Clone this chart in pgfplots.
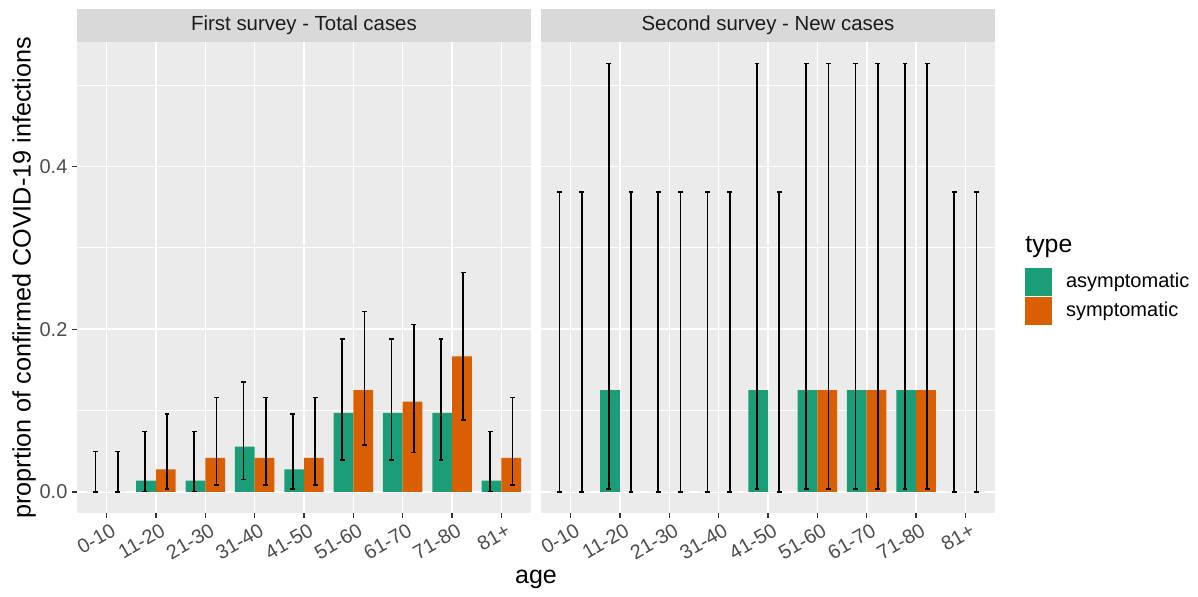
\documentclass[border=0pt]{standalone}
\usepackage{pgfplots}
\pgfplotsset{compat=1.18}
\usepackage{pgfplotstable}
\usepackage{fontspec}
\setmainfont{Liberation Sans}
\definecolor{dgreen}{HTML}{1B9E77}
\definecolor{dorange}{HTML}{D95F02}
\definecolor{panelbg}{HTML}{EBEBEB}
\definecolor{stripbg}{HTML}{D9D9D9}
\definecolor{ticklab}{HTML}{4D4D4D}
\definecolor{tickcol}{HTML}{333333}
\definecolor{striptext}{HTML}{1A1A1A}

% First survey - Total cases
\pgfplotstableread{
idx asy    asylo  asyhi  sym    symlo  symhi
0   0      0      0.0495 0      0      0.0495
1   0.0139 0.0003 0.0745 0.0278 0.0035 0.0960
2   0.0139 0.0003 0.0745 0.0417 0.0087 0.1160
3   0.0556 0.0152 0.1350 0.0417 0.0087 0.1160
4   0.0278 0.0035 0.0960 0.0417 0.0087 0.1160
5   0.0972 0.0395 0.1880 0.1250 0.0580 0.2220
6   0.0972 0.0395 0.1880 0.1111 0.0485 0.2060
7   0.0972 0.0395 0.1880 0.1667 0.0885 0.2700
8   0.0139 0.0003 0.0745 0.0417 0.0087 0.1160
}\first

% Second survey - New cases
\pgfplotstableread{
idx asy    asylo  asyhi  sym    symlo  symhi
0   0      0      0.3690 0      0      0.3690
1   0.1250 0.0032 0.5265 0      0      0.3690
2   0      0      0.3690 0      0      0.3690
3   0      0      0.3690 0      0      0.3690
4   0.1250 0.0032 0.5265 0      0      0.3690
5   0.1250 0.0032 0.5265 0.1250 0.0032 0.5265
6   0.1250 0.0032 0.5265 0.1250 0.0032 0.5265
7   0.1250 0.0032 0.5265 0.1250 0.0032 0.5265
8   0      0      0.3690 0      0      0.3690
}\second

\pgfplotsset{
  facet/.style={
    scale only axis, width=227pt, height=235.5pt,
    xmin=-0.6, xmax=8.6, ymin=-0.0263, ymax=0.5528,
    axis background/.style={fill=panelbg},
    axis line style={draw=none},
    xtick={0,...,8},
    xticklabels={0-10,11-20,21-30,31-40,41-50,51-60,61-70,71-80,81+},
    ytick={0,0.2,0.4}, minor ytick={0.1,0.3,0.5},
    yticklabels={0.0,0.2,0.4},
    grid=both,
    major grid style={white, line width=0.8pt},
    minor grid style={white, line width=0.4pt},
    tick align=outside, major tick length=2.4pt, minor tick length=0pt,
    tick style={tickcol, line width=0.6pt},
    xtick pos=bottom, ytick pos=left,
    xticklabel style={rotate=30, anchor=north east, inner sep=1pt,
      xshift=1.6pt, yshift=-1.6pt,
      font=\fontsize{10}{12}\selectfont, text=ticklab},
    yticklabel style={inner sep=2.2pt, font=\fontsize{10}{12}\selectfont, text=ticklab},
    /pgf/number format/assume math mode=true,
    legend image code/.code={\fill[##1] (0pt,-6.9pt) rectangle (13.35pt,6.9pt);},
  },
  ebar/.style={forget plot, draw=none, mark=none,
    error bars/.cd, y dir=both, y explicit,
    error bar style={draw=black, solid, line width=0.8pt},
    error mark options={rotate=90, draw=black, mark size=1.2pt, line width=0.8pt}},
}

\begin{document}
\begin{tikzpicture}
\useasboundingbox (0,0) rectangle (599pt,298.5pt);

% left facet
\begin{axis}[facet, at={(38.5pt,41.85pt)}, anchor=south west]
\addplot[ybar, bar width=0.4, bar shift=-0.2, fill=dgreen, draw=none] table[x=idx,y=asy]{\first};
\addplot[ybar, bar width=0.4, bar shift=0.2, fill=dorange, draw=none] table[x=idx,y=sym]{\first};
\addplot[ebar] table[x expr=\thisrow{idx}-0.225, y=asy,
  y error plus expr=\thisrow{asyhi}-\thisrow{asy},
  y error minus expr=\thisrow{asy}-\thisrow{asylo}]{\first};
\addplot[ebar] table[x expr=\thisrow{idx}+0.225, y=sym,
  y error plus expr=\thisrow{symhi}-\thisrow{sym},
  y error minus expr=\thisrow{sym}-\thisrow{symlo}]{\first};
\end{axis}

% right facet
\begin{axis}[facet, at={(270.5pt,41.85pt)}, anchor=south west,
  yticklabels={}, ytick style={draw=none},
  legend style={draw=none, fill=none, at={(1.0661,0.5202)}, anchor=north west,
    inner sep=0pt, outer sep=0pt, row sep=0.65pt,
    nodes={inner sep=0pt}, font=\fontsize{10}{12}\selectfont,
    /tikz/every odd column/.append style={column sep=7.15pt}},
  legend cell align=left]
\addplot[ybar, bar width=0.4, bar shift=-0.2, fill=dgreen, draw=none] table[x=idx,y=asy]{\second};
\addplot[ybar, bar width=0.4, bar shift=0.2, fill=dorange, draw=none] table[x=idx,y=sym]{\second};
\addplot[ebar] table[x expr=\thisrow{idx}-0.225, y=asy,
  y error plus expr=\thisrow{asyhi}-\thisrow{asy},
  y error minus expr=\thisrow{asy}-\thisrow{asylo}]{\second};
\addplot[ebar] table[x expr=\thisrow{idx}+0.225, y=sym,
  y error plus expr=\thisrow{symhi}-\thisrow{sym},
  y error minus expr=\thisrow{sym}-\thisrow{symlo}]{\second};
\legend{asymptomatic,symptomatic}
\end{axis}

% facet strips
\fill[stripbg] (38.5pt,277.35pt) rectangle (265.5pt,294pt);
\fill[stripbg] (270.5pt,277.35pt) rectangle (497.5pt,294pt);
\node[text=striptext, font=\fontsize{10.2}{12}\selectfont] at (152pt,285.7pt) {First survey - Total cases};
\node[text=striptext, font=\fontsize{10.2}{12}\selectfont] at (384pt,285.7pt) {Second survey - New cases};

% axis titles
\node[rotate=90, font=\fontsize{12.6}{15}\selectfont] at (12pt,159.6pt) {proprtion of confirmed COVID-19 infections};
\node[anchor=base, font=\fontsize{12.5}{15}\selectfont] at (268pt,6.5pt) {age};

% legend title
\node[anchor=base west, inner sep=0pt, font=\fontsize{12.4}{15}\selectfont] at (512.5pt,172.15pt) {type};
\end{tikzpicture}
\end{document}
